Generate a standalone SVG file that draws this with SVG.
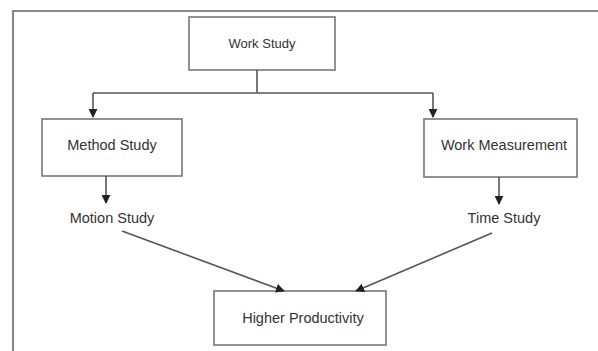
<svg xmlns="http://www.w3.org/2000/svg" width="598" height="351" viewBox="0 0 598 351">
<style>
.box{fill:#fff;stroke:#777;stroke-width:1.6}
.lbl{font-family:"Liberation Sans",Arial,sans-serif;font-size:14.5px;fill:#333;text-anchor:middle}
.con{fill:none;stroke:#555;stroke-width:1.6}
</style>
<defs>
<marker id="ah" viewBox="0 0 10 10" refX="9" refY="5" markerWidth="9" markerHeight="9" markerUnits="userSpaceOnUse" orient="auto">
<path d="M0,0 L10,5 L0,10 z" fill="#222"/>
</marker>
</defs>
<rect width="598" height="351" fill="#fff"/>
<path d="M13,351 V11 H598" fill="none" stroke="#888" stroke-width="2.2"/>
<g id="work-study"><rect class="box" x="189" y="17" width="146" height="53"/><text class="lbl" x="262" y="48" style="font-size:13px">Work Study</text></g>
<g id="method-study"><rect class="box" x="42" y="119" width="140" height="57"/><text class="lbl" x="112" y="150">Method Study</text></g>
<g id="work-measurement"><rect class="box" x="424" y="119" width="153" height="58"/><text class="lbl" x="504" y="150">Work Measurement</text></g>
<g id="motion-study"><text class="lbl" x="112" y="223">Motion Study</text></g>
<g id="time-study"><text class="lbl" x="504" y="223">Time Study</text></g>
<g id="higher-productivity"><rect class="box" x="214" y="291" width="172" height="54"/><text class="lbl" x="303" y="323">Higher Productivity</text></g>
<g id="connectors">
<path class="con" d="M257,70 V93"/>
<path class="con" d="M93,93 H433"/>
<path class="con" d="M93,93 V117" marker-end="url(#ah)"/>
<path class="con" d="M433,93 V117" marker-end="url(#ah)"/>
<path class="con" d="M106,176 V203" marker-end="url(#ah)"/>
<path class="con" d="M499,177 V204" marker-end="url(#ah)"/>
<path class="con" d="M122,231 L284,291" marker-end="url(#ah)"/>
<path class="con" d="M492,233 L356,291" marker-end="url(#ah)"/>
</g>
</svg>
